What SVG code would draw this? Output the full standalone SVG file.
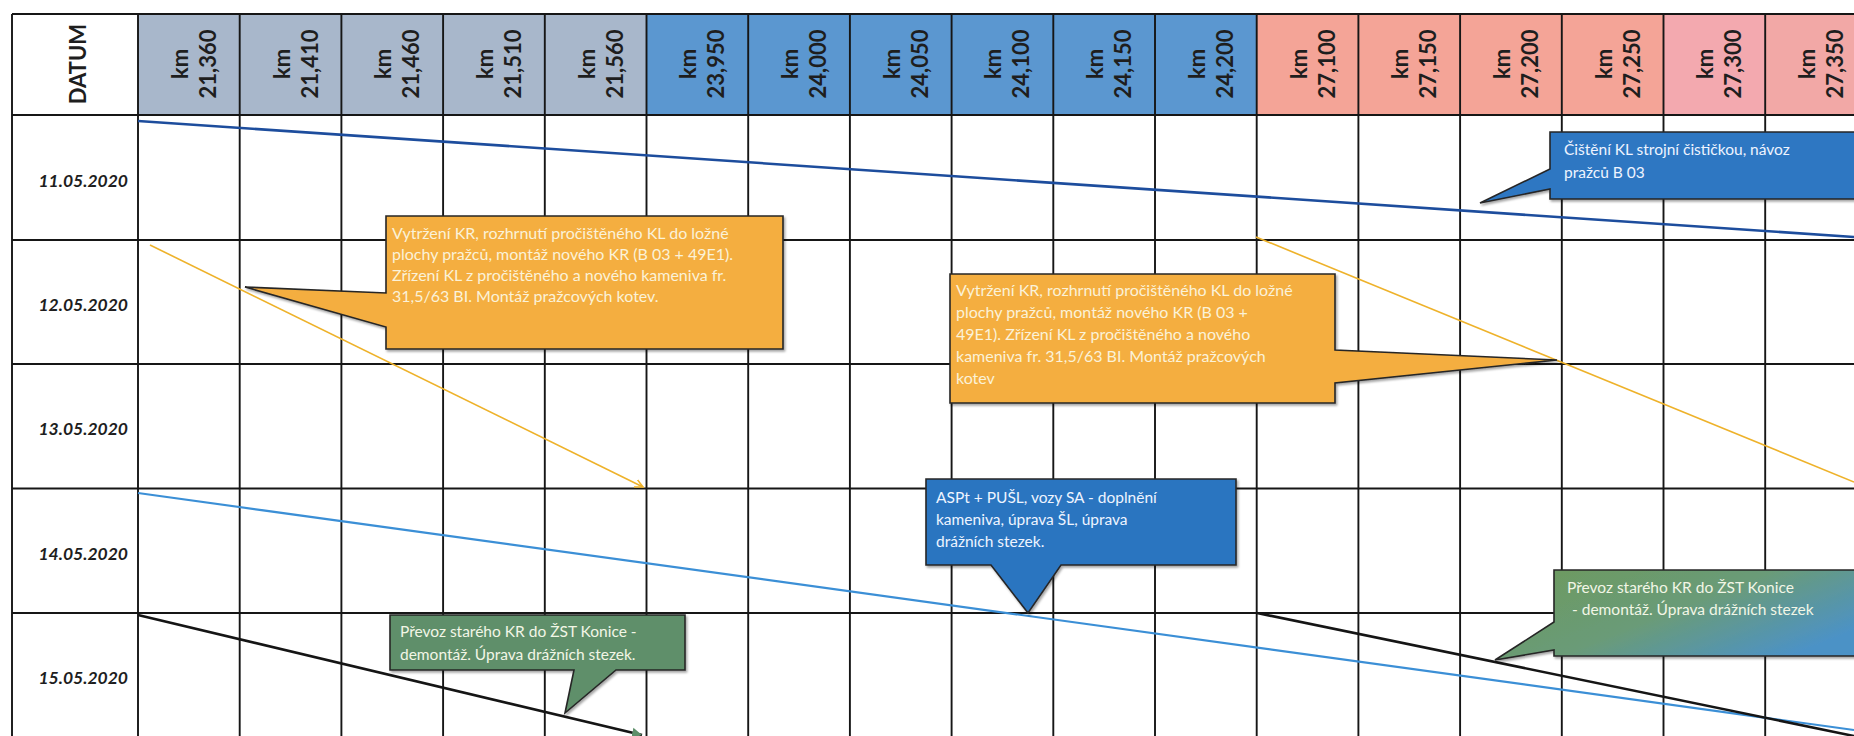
<svg xmlns="http://www.w3.org/2000/svg" width="1854" height="736" viewBox="0 0 1854 736">
<style>
.grid{stroke:#161616;stroke-width:1.9;fill:none}
.hdr{font-family:Lato,"Liberation Sans",sans-serif;font-weight:700;font-size:22px;fill:#1e1e1e;text-anchor:middle}
.date{font-family:Lato,"Liberation Sans",sans-serif;font-weight:700;font-style:italic;font-size:17.5px;fill:#1e1e1e;text-anchor:end}
.co{font-family:Lato,"Open Sans",sans-serif;font-size:15.5px}
.ctxt{fill:#fbf2d8;font-size:16px}
.btxt{fill:#eef4ff}
.gtxt{fill:#f2f6e6}
.cbox{stroke:#262626;stroke-width:1.6;stroke-linejoin:miter}
.gb{fill:#a8b7cb}
.bl{fill:#5b97d0}
.sa{fill:#f4a497}
.pk{fill:#f3a9af}
</style>
<defs>
<marker id="arrO" markerWidth="10" markerHeight="10" refX="8" refY="5" orient="auto" markerUnits="userSpaceOnUse">
<path d="M0,1 L8,5 L0,9" fill="none" stroke="#eeb22a" stroke-width="1.6"/>
</marker>
<marker id="arrG" markerWidth="12" markerHeight="12" refX="10" refY="6" orient="auto" markerUnits="userSpaceOnUse">
<path d="M0,1 L10,6 L0,11 Z" fill="#5e8f6a"/>
</marker>
<linearGradient id="gradF" x1="0" y1="0" x2="1" y2="0.6">
<stop offset="0" stop-color="#6e9a5c"/>
<stop offset="0.55" stop-color="#6a9b78"/>
<stop offset="1" stop-color="#4c92c6"/>
</linearGradient>
<filter id="sh" x="-5%" y="-5%" width="115%" height="125%">
<feDropShadow dx="1.5" dy="2" stdDeviation="1.2" flood-color="#000" flood-opacity="0.35"/>
</filter>
</defs>
<rect width="1854" height="736" fill="#ffffff"/>

<g id="header">
<rect x="138" y="14" width="508.5" height="101" class="gb"/>
<rect x="646.5" y="14" width="610.2" height="101" class="bl"/>
<rect x="1256.7" y="14" width="406.8" height="101" class="sa"/>
<rect x="1663.5" y="14" width="101.7" height="101" class="pk"/>
<rect x="1765.2" y="14" width="101.7" height="101" fill="#f2a8a6"/>
<text class="hdr" font-size="27" transform="translate(86,64) rotate(-90)">DATUM</text>
<text class="hdr" transform="translate(188.85,64) rotate(-90)"><tspan x="0" y="-1">km</tspan><tspan x="0" y="27">21,360</tspan></text>
<text class="hdr" transform="translate(290.55,64) rotate(-90)"><tspan x="0" y="-1">km</tspan><tspan x="0" y="27">21,410</tspan></text>
<text class="hdr" transform="translate(392.25,64) rotate(-90)"><tspan x="0" y="-1">km</tspan><tspan x="0" y="27">21,460</tspan></text>
<text class="hdr" transform="translate(493.95,64) rotate(-90)"><tspan x="0" y="-1">km</tspan><tspan x="0" y="27">21,510</tspan></text>
<text class="hdr" transform="translate(595.65,64) rotate(-90)"><tspan x="0" y="-1">km</tspan><tspan x="0" y="27">21,560</tspan></text>
<text class="hdr" transform="translate(697.35,64) rotate(-90)"><tspan x="0" y="-1">km</tspan><tspan x="0" y="27">23,950</tspan></text>
<text class="hdr" transform="translate(799.05,64) rotate(-90)"><tspan x="0" y="-1">km</tspan><tspan x="0" y="27">24,000</tspan></text>
<text class="hdr" transform="translate(900.75,64) rotate(-90)"><tspan x="0" y="-1">km</tspan><tspan x="0" y="27">24,050</tspan></text>
<text class="hdr" transform="translate(1002.45,64) rotate(-90)"><tspan x="0" y="-1">km</tspan><tspan x="0" y="27">24,100</tspan></text>
<text class="hdr" transform="translate(1104.15,64) rotate(-90)"><tspan x="0" y="-1">km</tspan><tspan x="0" y="27">24,150</tspan></text>
<text class="hdr" transform="translate(1205.85,64) rotate(-90)"><tspan x="0" y="-1">km</tspan><tspan x="0" y="27">24,200</tspan></text>
<text class="hdr" transform="translate(1307.55,64) rotate(-90)"><tspan x="0" y="-1">km</tspan><tspan x="0" y="27">27,100</tspan></text>
<text class="hdr" transform="translate(1409.25,64) rotate(-90)"><tspan x="0" y="-1">km</tspan><tspan x="0" y="27">27,150</tspan></text>
<text class="hdr" transform="translate(1510.95,64) rotate(-90)"><tspan x="0" y="-1">km</tspan><tspan x="0" y="27">27,200</tspan></text>
<text class="hdr" transform="translate(1612.65,64) rotate(-90)"><tspan x="0" y="-1">km</tspan><tspan x="0" y="27">27,250</tspan></text>
<text class="hdr" transform="translate(1714.35,64) rotate(-90)"><tspan x="0" y="-1">km</tspan><tspan x="0" y="27">27,300</tspan></text>
<text class="hdr" transform="translate(1816.05,64) rotate(-90)"><tspan x="0" y="-1">km</tspan><tspan x="0" y="27">27,350</tspan></text>
</g>

<g id="dates">
<text class="date" x="128" y="186.5">11.05.2020</text>
<text class="date" x="128" y="311">12.05.2020</text>
<text class="date" x="128" y="435">13.05.2020</text>
<text class="date" x="128" y="560">14.05.2020</text>
<text class="date" x="128" y="684">15.05.2020</text>
</g>

<g id="grid" class="grid">
<path d="M12,14 H1854 M12,115 H1854 M12,240 H1854 M12,364 H1854 M12,488.5 H1854 M12,613 H1854"/>
<path d="M12,14 V736 M138,14 V736 M239.7,14 V736 M341.4,14 V736 M443.1,14 V736 M544.8,14 V736 M646.5,14 V736 M748.2,14 V736 M849.9,14 V736 M951.6,14 V736 M1053.3,14 V736 M1155,14 V736 M1256.7,14 V736 M1358.4,14 V736 M1460.1,14 V736 M1561.8,14 V736 M1663.5,14 V736 M1765.2,14 V736"/>
</g>

<g id="connectors" fill="none">
<line x1="138" y1="121" x2="1854" y2="237" stroke="#1d4d9d" stroke-width="2.6"/>
<line x1="150" y1="245" x2="643" y2="487" stroke="#eeb22a" stroke-width="1.6" marker-end="url(#arrO)"/>
<line x1="1256" y1="237" x2="1854" y2="482" stroke="#eeb22a" stroke-width="1.6"/>
<line x1="138" y1="493" x2="1854" y2="730" stroke="#3b8fd6" stroke-width="2.2"/>
<line x1="138" y1="615" x2="642" y2="735" stroke="#151515" stroke-width="2.6" marker-end="url(#arrG)"/>
<line x1="1257" y1="613" x2="1854" y2="736" stroke="#151515" stroke-width="2.6"/>
</g>

<g id="callout-cisteni">
<path class="cbox" filter="url(#sh)" fill="#2f77c2" d="M1550,132 H1870 V199 H1550 V189 L1480,203 L1550,169 Z"/>
<text class="co btxt" font-size="16"><tspan x="1564" y="155">Čištění KL strojní čističkou, návoz</tspan><tspan x="1564" y="178">pražců B 03</tspan></text>
</g>

<g id="callout-vytrzeni-1">
<path class="cbox" filter="url(#sh)" fill="#f4ae40" d="M386,216 H783 V349 H386 V327 L245,287 L386,293 Z"/>
<text class="co ctxt"><tspan x="392" y="239">Vytržení KR, rozhrnutí pročištěného KL do ložné</tspan><tspan x="392" y="260">plochy pražců, montáž nového KR (B 03 + 49E1).</tspan><tspan x="392" y="281">Zřízení KL z pročištěného a nového kameniva fr.</tspan><tspan x="392" y="302">31,5/63 BI. Montáž pražcových kotev.</tspan></text>
</g>

<g id="callout-vytrzeni-2">
<path class="cbox" filter="url(#sh)" fill="#f4ae40" d="M950,274 H1335 V350 L1557,360 L1335,383 V403 H950 Z"/>
<text class="co ctxt"><tspan x="956" y="296">Vytržení KR, rozhrnutí pročištěného KL do ložné</tspan><tspan x="956" y="318">plochy pražců, montáž nového KR (B 03 +</tspan><tspan x="956" y="340">49E1).  Zřízení KL z pročištěného a nového</tspan><tspan x="956" y="362">kameniva fr. 31,5/63 BI. Montáž pražcových</tspan><tspan x="956" y="384">kotev</tspan></text>
</g>

<g id="callout-aspt">
<path class="cbox" filter="url(#sh)" fill="#2c74c0" d="M926,479 H1236 V565 H1061 L1028,613 L991,565 H926 Z"/>
<text class="co btxt"><tspan x="936" y="503">ASPt + PUŠL, vozy SA - doplnění</tspan><tspan x="936" y="525">kameniva, úprava ŠL, úprava</tspan><tspan x="936" y="547">drážních stezek.</tspan></text>
</g>

<g id="callout-prevoz-1">
<path class="cbox" filter="url(#sh)" fill="#5e8f6a" d="M390,615 H685 V670 H616 L565,713 L574,670 H390 Z"/>
<text class="co gtxt"><tspan x="400" y="637">Převoz starého KR do ŽST Konice -</tspan><tspan x="400" y="660">demontáž. Úprava drážních stezek.</tspan></text>
</g>

<g id="callout-prevoz-2">
<path class="cbox" filter="url(#sh)" fill="url(#gradF)" d="M1554,570 H1870 V656 H1554 V650 L1495,660 L1554,622 Z"/>
<text class="co gtxt" font-size="15"><tspan x="1567" y="593">Převoz starého KR do ŽST Konice</tspan><tspan x="1572" y="615">- demontáž. Úprava drážních stezek</tspan></text>
</g>
</svg>
